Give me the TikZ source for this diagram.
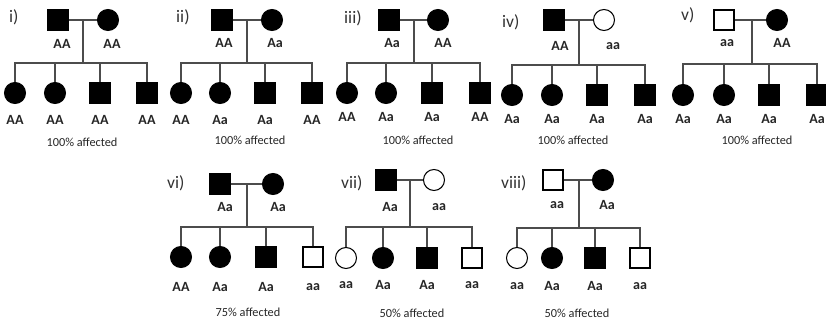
\documentclass[tikz,border=0pt]{standalone}
\usepackage{fontspec}
\setmainfont{Carlito}
\usetikzlibrary{calc}
\tikzset{
    male/.style={draw, rectangle, minimum size=0.4cm, inner sep=0pt, line width=0.6pt},
    female/.style={draw, circle, minimum size=0.42cm, inner sep=0pt, line width=0.6pt},
    affmale/.style={male, fill=black},
    afffemale/.style={female, fill=black},
    unmale/.style={male, fill=white},
    unfemale/.style={female, fill=white},
    geno/.style={font=\fontsize{8}{9}\selectfont\bfseries, text=black!85},
    note/.style={font=\fontsize{7}{8}\selectfont, text=black!85},
    panel/.style={font=\fontsize{10}{12}\selectfont, anchor=west, text=black!80},
    con/.style={draw=black!70, line width=0.7pt}
}

\begin{document}
\begin{tikzpicture}[x=0.02cm, y=-0.02cm]
    \useasboundingbox (0,0) rectangle (826,320);
    % i)
    \node[panel] (p1) at (3,17) {i)};
    \node[affmale] (i-f) at (58,20) {};
    \node[afffemale] (i-m) at (108,20) {};
    \node[geno] (i-fg) at (62,44) {AA};
    \node[geno] (i-mg) at (112,44) {AA};
    \draw[con] (i-f) -- (i-m);
    \coordinate (i-sib) at (83,63);
    \draw[con] (i-sib) -- (i-sib |- i-f);
    \foreach \x/\s/\g [count=\n] in {15/afffemale/AA, 55/afffemale/AA, 100/affmale/AA, 147/affmale/AA}{
        \node[\s] (i-c\n) at (\x,93) {};
        \node[geno] (i-g\n) at (\x,120) {\g};
        \draw[con] (i-c\n) |- (i-sib);
    }
    \node[note] (i-pct) at (82,142) {100\% affected};

    % ii)
    \node[panel] (p2) at (170,17) {ii)};
    \node[affmale] (ii-f) at (222,20) {};
    \node[afffemale] (ii-m) at (272,20) {};
    \node[geno] (ii-fg) at (224,43) {AA};
    \node[geno] (ii-mg) at (275,43) {Aa};
    \draw[con] (ii-f) -- (ii-m);
    \coordinate (ii-sib) at (247,63);
    \draw[con] (ii-sib) -- (ii-sib |- ii-f);
    \foreach \x/\s/\g [count=\n] in {181/afffemale/AA, 220/afffemale/Aa, 265/affmale/Aa, 312/affmale/AA}{
        \node[\s] (ii-c\n) at (\x,93) {};
        \node[geno] (ii-g\n) at (\x,120) {\g};
        \draw[con] (ii-c\n) |- (ii-sib);
    }
    \node[note] (ii-pct) at (250,140) {100\% affected};

    % iii)
    \node[panel] (p3) at (338,18) {iii)};
    \node[affmale] (iii-f) at (389,20) {};
    \node[afffemale] (iii-m) at (438,20) {};
    \node[geno] (iii-fg) at (392,43) {Aa};
    \node[geno] (iii-mg) at (443,43) {AA};
    \draw[con] (iii-f) -- (iii-m);
    \coordinate (iii-sib) at (414,63);
    \draw[con] (iii-sib) -- (iii-sib |- iii-f);
    \foreach \x/\s/\g [count=\n] in {347/afffemale/AA, 386/afffemale/Aa, 432/affmale/Aa, 480/affmale/AA}{
        \node[\s] (iii-c\n) at (\x,93) {};
        \node[geno] (iii-g\n) at (\x,117) {\g};
        \draw[con] (iii-c\n) |- (iii-sib);
    }
    \node[note] (iii-pct) at (418,140) {100\% affected};

    % iv)
    \node[panel] (p4) at (496,22) {iv)};
    \node[affmale] (iv-f) at (554,20) {};
    \node[unfemale] (iv-m) at (604,20) {};
    \node[geno] (iv-fg) at (560,46) {AA};
    \node[geno] (iv-mg) at (613,46) {aa};
    \draw[con] (iv-f) -- (iv-m);
    \coordinate (iv-sib) at (579,65);
    \draw[con] (iv-sib) -- (iv-sib |- iv-f);
    \foreach \x/\s/\g [count=\n] in {512/afffemale/Aa, 552/afffemale/Aa, 597/affmale/Aa, 645/affmale/Aa}{
        \node[\s] (iv-c\n) at (\x,95) {};
        \node[geno] (iv-g\n) at (\x,119) {\g};
        \draw[con] (iv-c\n) |- (iv-sib);
    }
    \node[note] (iv-pct) at (573,140) {100\% affected};

    % v)
    \node[panel] (p5) at (675,15) {v)};
    \node[unmale] (v-f) at (724,20) {};
    \node[afffemale] (v-m) at (777,20) {};
    \node[geno] (v-fg) at (727,43) {aa};
    \node[geno] (v-mg) at (782,43) {AA};
    \draw[con] (v-f) -- (v-m);
    \coordinate (v-sib) at (752,64);
    \draw[con] (v-sib) -- (v-sib |- v-f);
    \foreach \x/\s/\g [count=\n] in {683/afffemale/Aa, 724/afffemale/Aa, 769/affmale/Aa, 817/affmale/Aa}{
        \node[\s] (v-c\n) at (\x,95) {};
        \node[geno] (v-g\n) at (\x,119) {\g};
        \draw[con] (v-c\n) |- (v-sib);
    }
    \node[note] (v-pct) at (757,140) {100\% affected};

    % vi)
    \node[panel] (p6) at (161,183) {vi)};
    \node[affmale] (vi-f) at (220,184) {};
    \node[afffemale] (vi-m) at (273,184) {};
    \node[geno] (vi-fg) at (225,207) {Aa};
    \node[geno] (vi-mg) at (278,207) {Aa};
    \draw[con] (vi-f) -- (vi-m);
    \coordinate (vi-sib) at (247,227);
    \draw[con] (vi-sib) -- (vi-sib |- vi-f);
    \foreach \x/\s/\g [count=\n] in {181/afffemale/AA, 220/afffemale/Aa, 266/affmale/Aa, 313/unmale/aa}{
        \node[\s] (vi-c\n) at (\x,257) {};
        \node[geno] (vi-g\n) at (\x,287) {\g};
        \draw[con] (vi-c\n) |- (vi-sib);
    }
    \node[note] (vi-pct) at (248,312) {75\% affected};

    % vii)
    \node[panel] (p7) at (335,183) {vii)};
    \node[affmale] (vii-f) at (386,180) {};
    \node[unfemale] (vii-m) at (434,180) {};
    \node[geno] (vii-fg) at (390,207) {Aa};
    \node[geno] (vii-mg) at (439,207) {aa};
    \draw[con] (vii-f) -- (vii-m);
    \coordinate (vii-sib) at (410,227);
    \draw[con] (vii-sib) -- (vii-sib |- vii-f);
    \foreach \x/\s/\g [count=\n] in {346/unfemale/aa, 383/afffemale/Aa, 427/affmale/Aa, 472/unmale/aa}{
        \node[\s] (vii-c\n) at (\x,258) {};
        \node[geno] (vii-g\n) at (\x,285) {\g};
        \draw[con] (vii-c\n) |- (vii-sib);
    }
    \node[note] (vii-pct) at (412,313) {50\% affected};

    % viii)
    \node[panel] (p8) at (495,183) {viii)};
    \node[unmale] (viii-f) at (553,180) {};
    \node[afffemale] (viii-m) at (603,180) {};
    \node[geno] (viii-fg) at (557,205) {aa};
    \node[geno] (viii-mg) at (607,205) {Aa};
    \draw[con] (viii-f) -- (viii-m);
    \coordinate (viii-sib) at (579,228);
    \draw[con] (viii-sib) -- (viii-sib |- viii-f);
    \foreach \x/\s/\g [count=\n] in {517/unfemale/aa, 552/afffemale/Aa, 595/affmale/Aa, 640/unmale/aa}{
        \node[\s] (viii-c\n) at (\x,258) {};
        \node[geno] (viii-g\n) at (\x,286) {\g};
        \draw[con] (viii-c\n) |- (viii-sib);
    }
    \node[note] (viii-pct) at (577,313) {50\% affected};
\end{tikzpicture}
\end{document}
